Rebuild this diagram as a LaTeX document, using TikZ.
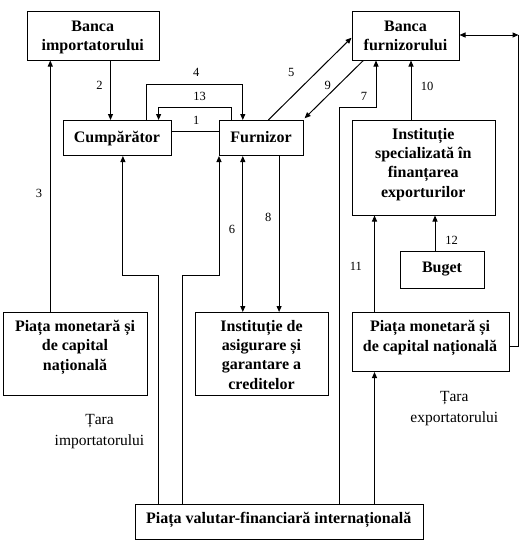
\documentclass[tikz,border=0pt]{standalone}
\usepackage{fontspec}
\setmainfont{Liberation Serif}
\usetikzlibrary{arrows.meta}
\begin{document}
\begin{tikzpicture}[x=1pt,y=-1pt,
  box/.style={draw, line width=1pt, inner sep=0pt, anchor=north west},
  btxt/.style={font=\fontsize{16}{19.3}\selectfont\bfseries, align=center, inner sep=0pt, anchor=base},
  num/.style={font=\fontsize{12.5}{15}\selectfont, inner sep=0pt},
  ctry/.style={font=\fontsize{15.5}{20.3}\selectfont, align=center, inner sep=0pt},
  conn/.style={line width=1pt},
  arr/.style={conn, -{Triangle[length=6pt,width=5pt]}},
  darr/.style={conn, {Triangle[length=6pt,width=5pt]}-{Triangle[length=6pt,width=5pt]}}]
\useasboundingbox (0,0) rectangle (531,552);
% boxes
\node[box, minimum width=132.5pt, minimum height=48.5pt] (bi) at (26.5,11) {};
\node[box, minimum width=107pt, minimum height=48.5pt] (bf) at (351.5,11) {};
\node[box, minimum width=108pt, minimum height=35pt] (cu) at (63,120) {};
\node[box, minimum width=84pt, minimum height=35pt] (fu) at (219,120) {};
\node[box, minimum width=143.5pt, minimum height=94.5pt] (is) at (351.5,120) {};
\node[box, minimum width=84pt, minimum height=36.5pt] (bu) at (400,251) {};
\node[box, minimum width=144pt, minimum height=82.5pt] (pml) at (3,312) {};
\node[box, minimum width=133pt, minimum height=82.5pt] (ia) at (195,312) {};
\node[box, minimum width=157pt, minimum height=59pt] (pmr) at (351.5,312) {};
\node[box, minimum width=288.5pt, minimum height=35.5pt] (pv) at (134.5,503.5) {};
% box texts (anchor = baseline of the last line)
\node[btxt] (tbi) at (92.75,50.5) {Banca\\importatorului};
\node[btxt] (tbf) at (405.5,50.5) {Banca\\furnizorului};
\node[btxt] (tcu) at (117,142) {Cumpărător};
\node[btxt] (tfu) at (261,142) {Furnizor};
\node[btxt] (tis) at (423.25,197) {Instituție\\specializată în\\finanțarea\\exporturilor};
\node[btxt] (tbu) at (442,272) {Buget};
\node[btxt] (tpml) at (75,370) {Piața monetară și\\de capital\\națională};
\node[btxt] (tia) at (261.5,389) {Instituție de\\asigurare și\\garantare a\\creditelor};
\node[btxt] (tpmr) at (430,351) {Piața monetară și\\de capital națională};
\node[btxt] (tpv) at (278.75,523) {Piața valutar-financiară internațională};
% connectors
\draw[arr] (110.5,0 |- bi.south) -- (110.5,0 |- cu.north);
\draw[arr] (50.3,0 |- pml.north) -- (50.3,0 |- bi.south);
\draw[arr] (146.7,0 |- cu.north) -- (146.7,84) -- (242.8,84) -- (242.8,0 |- fu.north);
\draw[arr] (231,0 |- fu.north) -- (231,107.3) -- (158.6,107.3) -- (158.6,0 |- cu.north);
\draw[conn] (cu.east |- 0,131) -- (fu.west |- 0,131);
\draw[arr] (268.3,0 |- fu.north) -- (bf.west |- 0,37.7);
\draw[arr] (363.3,0 |- bf.south) -- (304.6,118.3);
\draw[arr] (339.6,0 |- pv.north) -- (339.6,107.3) -- (376,107.3) -- (376,0 |- bf.south);
\draw[arr] (411,0 |- is.north) -- (411,0 |- bf.south);
\coordinate (rt) at (518.5,35);
\draw[darr] (bf.east |- rt) -- (rt);
\draw[conn] (pmr.east |- 0,346.7) -- (518.5,346.7) -- (rt);
\draw[arr] (158.9,0 |- pv.north) -- (158.9,275) -- (122.9,275) -- (122.9,0 |- cu.south);
\draw[arr] (182.7,0 |- pv.north) -- (182.7,275) -- (219,275) -- (219,0 |- fu.south);
\draw[darr] (242.8,0 |- fu.south) -- (242.8,0 |- ia.north);
\draw[arr] (279.1,0 |- fu.south) -- (279.1,0 |- ia.north);
\draw[arr] (374.5,0 |- pmr.north) -- (374.5,0 |- is.south);
\draw[arr] (374.5,0 |- pv.north) -- (374.5,0 |- pmr.south);
\draw[arr] (435,0 |- bu.north) -- (435,0 |- is.south);
% numbers
\node[num] (n2) at (99.5,85) {2};
\node[num] (n3) at (39,193.3) {3};
\node[num] (n4) at (196.3,72.7) {4};
\node[num] (n13) at (199.7,96.7) {13};
\node[num] (n1) at (196.3,120.7) {1};
\node[num] (n5) at (291.3,72.7) {5};
\node[num] (n9) at (327.7,85) {9};
\node[num] (n7) at (364,96.7) {7};
\node[num] (n10) at (427.2,86) {10};
\node[num] (n6) at (231.9,229.3) {6};
\node[num] (n8) at (268.3,217.7) {8};
\node[num] (n11) at (355.9,266.7) {11};
\node[num] (n12) at (451.6,240.7) {12};
% countries
\node[ctry] (ti) at (99.5,431.7) {Țara\\importatorului};
\node[ctry] (te) at (454.3,408.7) {Țara\\exportatorului};
\end{tikzpicture}
\end{document}
